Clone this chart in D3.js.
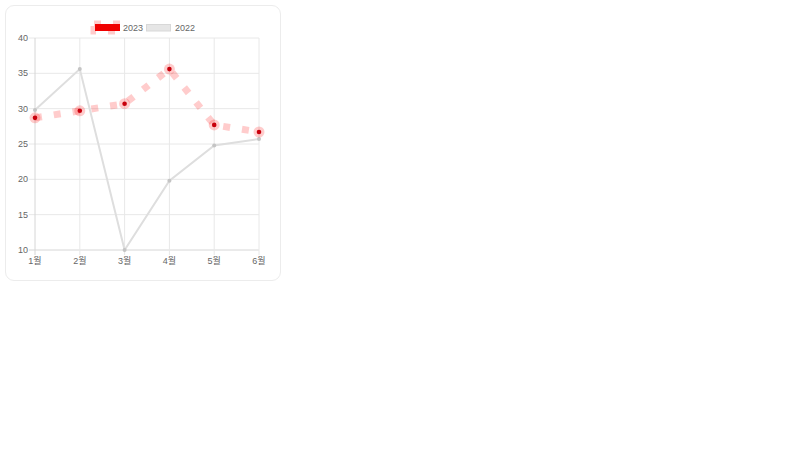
<!DOCTYPE html>
<html>
<head>
<meta charset="utf-8">
<script src="https://cdn.jsdelivr.net/npm/d3@7.9.0/dist/d3.min.js"></script>
<style>
  body { margin: 0; background: #fff; }
  #card {
    position: absolute; left: 5px; top: 5px; width: 276px; height: 276px;
    border: 1px solid #ececec; border-radius: 9px; box-sizing: border-box;
  }
  svg { position: absolute; left: 0; top: 0; }
</style>
</head>
<body>
<div id="card"></div>
<script>
// ** Data **
const months = ["1월", "2월", "3월", "4월", "5월", "6월"];
const sales2023 = [28.7, 29.7, 30.7, 35.6, 27.7, 26.7];
const sales2022 = [29.8, 35.6, 10, 19.8, 24.8, 25.7];
const yTicks = [10, 15, 20, 25, 30, 35, 40];

const font = "'Liberation Sans', Arial, 'Noto Sans CJK KR', sans-serif";

// ** SVG Setup **
const svg = d3.select("body").append("svg")
    .attr("width", 800)
    .attr("height", 450);

const x = d3.scalePoint().domain(months).range([35, 259]);
const y = d3.scaleLinear().domain([10, 40]).range([250, 38]);

// ** Grid **
const grid = svg.append("g");
grid.selectAll("line.h")
    .data(yTicks)
    .enter().append("line")
    .attr("x1", 29).attr("x2", 259)
    .attr("y1", d => y(d)).attr("y2", d => y(d))
    .attr("stroke", d => d === 10 ? "#d6d6d6" : "#e8e8e8")
    .attr("stroke-width", 1);
grid.selectAll("line.v")
    .data(months)
    .enter().append("line")
    .attr("x1", d => x(d)).attr("x2", d => x(d))
    .attr("y1", 38).attr("y2", 255)
    .attr("stroke", (d, i) => i === 0 ? "#d6d6d6" : "#e8e8e8")
    .attr("stroke-width", 1);

// ** Tick labels **
svg.selectAll("text.y")
    .data(yTicks)
    .enter().append("text")
    .attr("x", 28).attr("y", d => y(d) + 3)
    .attr("text-anchor", "end")
    .style("font-family", font).style("font-size", "9px").style("fill", "#666")
    .text(d => d);
svg.selectAll("text.x")
    .data(months)
    .enter().append("text")
    .attr("x", d => x(d)).attr("y", 264)
    .attr("text-anchor", "middle")
    .style("font-family", font).style("font-size", "9px").style("fill", "#666")
    .text(d => d);

// ** 2022 line **
const line = d3.line().x((d, i) => x(months[i])).y(d => y(d));
svg.append("path")
    .datum(sales2022)
    .attr("d", line)
    .attr("fill", "none")
    .attr("stroke", "#dedede")
    .attr("stroke-width", 2);
svg.selectAll("circle.p22")
    .data(sales2022)
    .enter().append("circle")
    .attr("cx", (d, i) => x(months[i])).attr("cy", d => y(d))
    .attr("r", 2)
    .attr("fill", "#c4c4c4");

// ** 2023 line (thick dashed) **
svg.append("path")
    .datum(sales2023)
    .attr("d", line)
    .attr("fill", "none")
    .attr("stroke", "rgba(255,0,0,0.2)")
    .attr("stroke-width", 7)
    .attr("stroke-dasharray", "7 12");
svg.selectAll("circle.halo")
    .data(sales2023)
    .enter().append("circle")
    .attr("cx", (d, i) => x(months[i])).attr("cy", d => y(d))
    .attr("r", 5.5)
    .attr("fill", "rgba(255,0,0,0.2)");
svg.selectAll("circle.p23")
    .data(sales2023)
    .enter().append("circle")
    .attr("cx", (d, i) => x(months[i])).attr("cy", d => y(d))
    .attr("r", 2.3)
    .attr("fill", "#c8000c");

// ** Legend **
const legend = svg.append("g");
legend.append("rect")
    .attr("x", 94).attr("y", 24).attr("width", 26).attr("height", 7)
    .attr("fill", "none")
    .attr("stroke", "rgba(255,0,0,0.2)")
    .attr("stroke-width", 7)
    .attr("stroke-dasharray", "7 12");
legend.append("rect")
    .attr("x", 95).attr("y", 24).attr("width", 25).attr("height", 7)
    .attr("fill", "#f00000");
legend.append("text")
    .attr("x", 123).attr("y", 30.5)
    .style("font-family", font).style("font-size", "9px").style("fill", "#666")
    .text("2023");
legend.append("rect")
    .attr("x", 146.5).attr("y", 24.5).attr("width", 24).attr("height", 6.5)
    .attr("fill", "#e6e6e6")
    .attr("stroke", "#d8d8d8")
    .attr("stroke-width", 1);
legend.append("text")
    .attr("x", 175).attr("y", 30.5)
    .style("font-family", font).style("font-size", "9px").style("fill", "#666")
    .text("2022");
</script>
</body>
</html>
